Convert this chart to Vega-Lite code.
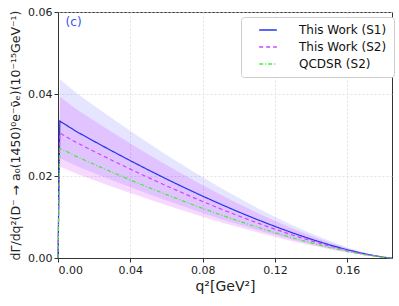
{
  "$schema": "https://vega.github.io/schema/vega-lite/v6.json",
  "autosize": {"type": "none"},
  "padding": {"left": 58, "top": 12, "right": 7, "bottom": 48},
  "width": 334,
  "height": 246,
  "background": "white",
  "config": {
    "font": "DejaVu Sans",
    "view": {"stroke": "#333333", "strokeWidth": 1},
    "axis": {
      "labelFont": "DejaVu Sans", "titleFont": "DejaVu Sans",
      "labelFontSize": 11, "labelColor": "#222222",
      "domainColor": "#333333", "tickColor": "#333333", "tickSize": 4,
      "grid": true, "gridColor": "#d8d8d8", "gridDash": [2, 2], "gridWidth": 0.7,
      "titleFontWeight": "normal", "titleColor": "#222222"
    }
  },
  "datasets": {
    "lines": [
      {"x": 0, "series": "This Work (S1)", "y": 0},
      {"x": 0.001, "series": "This Work (S1)", "y": 0.0334},
      {"x": 0.01, "series": "This Work (S1)", "y": 0.0309},
      {"x": 0.02, "series": "This Work (S1)", "y": 0.02845},
      {"x": 0.03, "series": "This Work (S1)", "y": 0.02606},
      {"x": 0.04, "series": "This Work (S1)", "y": 0.02373},
      {"x": 0.05, "series": "This Work (S1)", "y": 0.02146},
      {"x": 0.06, "series": "This Work (S1)", "y": 0.01926},
      {"x": 0.07, "series": "This Work (S1)", "y": 0.01713},
      {"x": 0.08, "series": "This Work (S1)", "y": 0.01508},
      {"x": 0.09, "series": "This Work (S1)", "y": 0.0131},
      {"x": 0.10, "series": "This Work (S1)", "y": 0.0112},
      {"x": 0.11, "series": "This Work (S1)", "y": 0.0094},
      {"x": 0.12, "series": "This Work (S1)", "y": 0.00768},
      {"x": 0.13, "series": "This Work (S1)", "y": 0.00607},
      {"x": 0.14, "series": "This Work (S1)", "y": 0.00457},
      {"x": 0.15, "series": "This Work (S1)", "y": 0.0032},
      {"x": 0.16, "series": "This Work (S1)", "y": 0.00199},
      {"x": 0.17, "series": "This Work (S1)", "y": 0.00096},
      {"x": 0.18, "series": "This Work (S1)", "y": 0.00019},
      {"x": 0.1846, "series": "This Work (S1)", "y": 0},
      {"x": 0, "series": "This Work (S2)", "y": 0},
      {"x": 0.001, "series": "This Work (S2)", "y": 0.0305},
      {"x": 0.01, "series": "This Work (S2)", "y": 0.02821},
      {"x": 0.02, "series": "This Work (S2)", "y": 0.02598},
      {"x": 0.03, "series": "This Work (S2)", "y": 0.02379},
      {"x": 0.04, "series": "This Work (S2)", "y": 0.02167},
      {"x": 0.05, "series": "This Work (S2)", "y": 0.0196},
      {"x": 0.06, "series": "This Work (S2)", "y": 0.01759},
      {"x": 0.07, "series": "This Work (S2)", "y": 0.01565},
      {"x": 0.08, "series": "This Work (S2)", "y": 0.01377},
      {"x": 0.09, "series": "This Work (S2)", "y": 0.01196},
      {"x": 0.10, "series": "This Work (S2)", "y": 0.01023},
      {"x": 0.11, "series": "This Work (S2)", "y": 0.00858},
      {"x": 0.12, "series": "This Work (S2)", "y": 0.00701},
      {"x": 0.13, "series": "This Work (S2)", "y": 0.00554},
      {"x": 0.14, "series": "This Work (S2)", "y": 0.00418},
      {"x": 0.15, "series": "This Work (S2)", "y": 0.00292},
      {"x": 0.16, "series": "This Work (S2)", "y": 0.00181},
      {"x": 0.17, "series": "This Work (S2)", "y": 0.00088},
      {"x": 0.18, "series": "This Work (S2)", "y": 0.00017},
      {"x": 0.1846, "series": "This Work (S2)", "y": 0},
      {"x": 0, "series": "QCDSR (S2)", "y": 0},
      {"x": 0.001, "series": "QCDSR (S2)", "y": 0.0268},
      {"x": 0.01, "series": "QCDSR (S2)", "y": 0.02479},
      {"x": 0.02, "series": "QCDSR (S2)", "y": 0.02283},
      {"x": 0.03, "series": "QCDSR (S2)", "y": 0.02091},
      {"x": 0.04, "series": "QCDSR (S2)", "y": 0.01904},
      {"x": 0.05, "series": "QCDSR (S2)", "y": 0.01722},
      {"x": 0.06, "series": "QCDSR (S2)", "y": 0.01546},
      {"x": 0.07, "series": "QCDSR (S2)", "y": 0.01375},
      {"x": 0.08, "series": "QCDSR (S2)", "y": 0.0121},
      {"x": 0.09, "series": "QCDSR (S2)", "y": 0.01051},
      {"x": 0.10, "series": "QCDSR (S2)", "y": 0.00899},
      {"x": 0.11, "series": "QCDSR (S2)", "y": 0.00754},
      {"x": 0.12, "series": "QCDSR (S2)", "y": 0.00616},
      {"x": 0.13, "series": "QCDSR (S2)", "y": 0.00487},
      {"x": 0.14, "series": "QCDSR (S2)", "y": 0.00367},
      {"x": 0.15, "series": "QCDSR (S2)", "y": 0.00257},
      {"x": 0.16, "series": "QCDSR (S2)", "y": 0.00159},
      {"x": 0.17, "series": "QCDSR (S2)", "y": 0.00077},
      {"x": 0.18, "series": "QCDSR (S2)", "y": 0.00015},
      {"x": 0.1846, "series": "QCDSR (S2)", "y": 0}
    ],
    "bands": [
      {"x": 0, "s1lo": 0, "s1hi": 0, "s2lo": 0, "s2hi": 0},
      {"x": 0.001, "s1lo": 0.0243, "s1hi": 0.0436, "s2lo": 0.0223, "s2hi": 0.0393},
      {"x": 0.01, "s1lo": 0.02248, "s1hi": 0.04033, "s2lo": 0.02063, "s2hi": 0.03635},
      {"x": 0.02, "s1lo": 0.0207, "s1hi": 0.03713, "s2lo": 0.01899, "s2hi": 0.03347},
      {"x": 0.03, "s1lo": 0.01896, "s1hi": 0.03401, "s2lo": 0.0174, "s2hi": 0.03066},
      {"x": 0.04, "s1lo": 0.01726, "s1hi": 0.03097, "s2lo": 0.01584, "s2hi": 0.02792},
      {"x": 0.05, "s1lo": 0.01562, "s1hi": 0.02802, "s2lo": 0.01433, "s2hi": 0.02525},
      {"x": 0.06, "s1lo": 0.01401, "s1hi": 0.02514, "s2lo": 0.01286, "s2hi": 0.02266},
      {"x": 0.07, "s1lo": 0.01247, "s1hi": 0.02237, "s2lo": 0.01144, "s2hi": 0.02016},
      {"x": 0.08, "s1lo": 0.01097, "s1hi": 0.01969, "s2lo": 0.01007, "s2hi": 0.01774},
      {"x": 0.09, "s1lo": 0.00953, "s1hi": 0.0171, "s2lo": 0.00875, "s2hi": 0.01541},
      {"x": 0.10, "s1lo": 0.00815, "s1hi": 0.01462, "s2lo": 0.00748, "s2hi": 0.01318},
      {"x": 0.11, "s1lo": 0.00684, "s1hi": 0.01226, "s2lo": 0.00627, "s2hi": 0.01106},
      {"x": 0.12, "s1lo": 0.00559, "s1hi": 0.01002, "s2lo": 0.00513, "s2hi": 0.00904},
      {"x": 0.13, "s1lo": 0.00442, "s1hi": 0.00792, "s2lo": 0.00405, "s2hi": 0.00714},
      {"x": 0.14, "s1lo": 0.00333, "s1hi": 0.00597, "s2lo": 0.00305, "s2hi": 0.00538},
      {"x": 0.15, "s1lo": 0.00233, "s1hi": 0.00418, "s2lo": 0.00214, "s2hi": 0.00377},
      {"x": 0.16, "s1lo": 0.00145, "s1hi": 0.00259, "s2lo": 0.00133, "s2hi": 0.00234},
      {"x": 0.17, "s1lo": 0.0007, "s1hi": 0.00125, "s2lo": 0.00064, "s2hi": 0.00113},
      {"x": 0.18, "s1lo": 0.00014, "s1hi": 0.00025, "s2lo": 0.00013, "s2hi": 0.00022},
      {"x": 0.1846, "s1lo": 0, "s1hi": 0, "s2lo": 0, "s2hi": 0}
    ],
    "labels": [{"label": "(c)", "lx": 0.0042, "ly": 0.0576}]
  },
  "layer": [
    {
      "data": {"name": "bands"},
      "mark": {"type": "area", "color": "#0000ff", "opacity": 0.1},
      "encoding": {
        "x": {"field": "x", "type": "quantitative",
              "scale": {"domain": [0, 0.1846], "nice": false, "zero": false},
              "axis": {"values": [0, 0.04, 0.08, 0.12, 0.16], "format": ".2f", "title": "q²[GeV²]", "titleFontSize": 14, "titlePadding": 4}},
        "y": {"field": "s1lo", "type": "quantitative",
              "scale": {"domain": [0, 0.06], "nice": false},
              "axis": {"values": [0, 0.02, 0.04, 0.06], "format": ".2f", "title": "dΓ/dq²(D⁻ → a₀(1450)⁰e⁻ν̄ₑ)(10⁻¹⁵GeV⁻¹)", "titleFontSize": 12.5, "titlePadding": 5}},
        "y2": {"field": "s1hi"}
      }
    },
    {
      "data": {"name": "bands"},
      "mark": {"type": "area", "color": "#cc00ff", "opacity": 0.15},
      "encoding": {
        "x": {"field": "x", "type": "quantitative"},
        "y": {"field": "s2lo", "type": "quantitative"},
        "y2": {"field": "s2hi"}
      }
    },
    {
      "data": {"name": "lines"},
      "mark": {"type": "line", "strokeWidth": 1.2},
      "encoding": {
        "x": {"field": "x", "type": "quantitative"},
        "y": {"field": "y", "type": "quantitative"},
        "color": {"field": "series", "type": "nominal",
                  "scale": {"domain": ["This Work (S1)", "This Work (S2)", "QCDSR (S2)"], "range": ["#2233ee", "#cc44ff", "#44ee33"]},
                  "legend": {"title": null, "orient": "none", "legendX": 183, "legendY": 5,
                             "symbolType": "M-2.2,0H2.2", "symbolSize": 64, "symbolStrokeWidth": 1.3,
                             "labelFontSize": 12, "labelFont": "DejaVu Sans", "labelColor": "#111111", "labelOffset": 25, "symbolOffset": 14,
                             "rowPadding": 5, "padding": 7, "fillColor": "white", "strokeColor": "#cccccc", "cornerRadius": 3}},
        "strokeDash": {"field": "series", "type": "nominal",
                  "scale": {"domain": ["This Work (S1)", "This Work (S2)", "QCDSR (S2)"], "range": [[1, 0], [4, 3], [4, 2, 1, 2]]},
                  "legend": {"title": null}}
      }
    },
    {
      "data": {"name": "labels"},
      "mark": {"type": "text", "color": "#3355ee", "fontSize": 12, "align": "left", "baseline": "middle", "font": "DejaVu Sans"},
      "encoding": {
        "x": {"field": "lx", "type": "quantitative"},
        "y": {"field": "ly", "type": "quantitative"},
        "text": {"field": "label"}
      }
    }
  ]
}
